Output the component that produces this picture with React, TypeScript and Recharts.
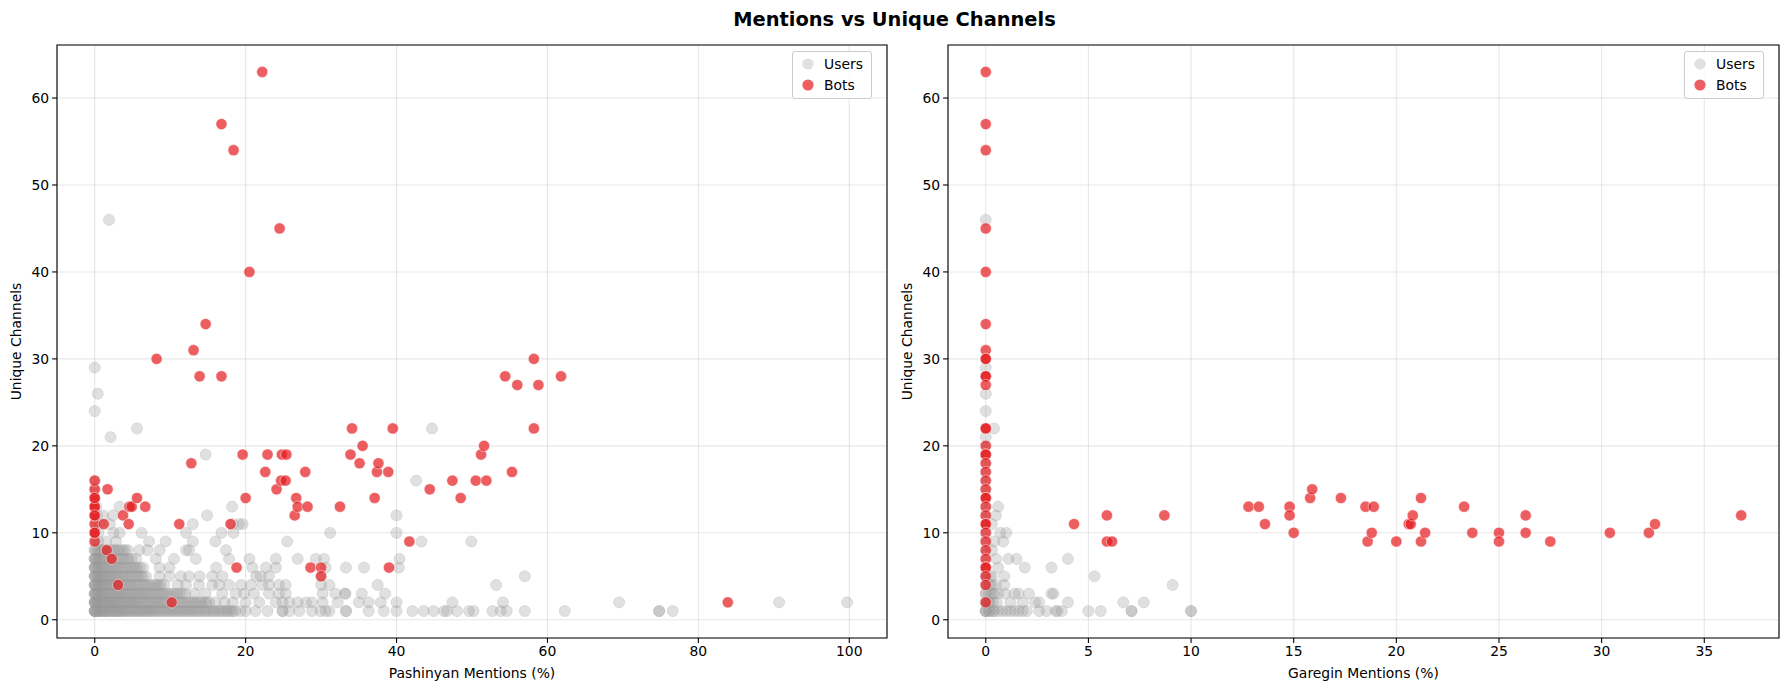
import { ScatterChart, Scatter, XAxis, YAxis, CartesianGrid, ReferenceArea, Legend } from "recharts";

// [mentions %, unique channels]
type Pt = [number, number];

const FONT = '"DejaVu Sans", Verdana, sans-serif';
const USER_COLOR = "#999999";
const USER_ALPHA = 0.3;
const BOT_COLOR = "#e41a1c";
const BOT_ALPHA = 0.7;

const yTicks = [0, 10, 20, 30, 40, 50, 60];
const pashinyanTicks = [0, 20, 40, 60, 80, 100];
const gareginTicks = [0, 5, 10, 15, 20, 25, 30, 35];

const pashinyanBots: Pt[] = [
  [0, 9], [0, 10], [0, 11], [0, 12], [0, 13], [0, 14], [0, 15], [0, 16], [0, 13], [0, 14], [0, 12], [0, 10],
  [1.2, 11], [1.7, 15], [1.6, 8], [2.25, 7], [3.1, 4], [3.75, 12], [4.5, 11], [4.6, 13], [4.9, 13], [5.6, 14],
  [6.7, 13], [8.2, 30], [10.2, 2], [11.2, 11], [12.8, 18], [13.1, 31], [13.9, 28], [14.7, 34], [16.8, 28],
  [16.8, 57], [18, 11], [18.4, 54], [18.8, 6], [19.6, 19], [20, 14], [20.5, 40], [22.2, 63], [22.6, 17],
  [22.9, 19], [24.1, 15], [24.5, 45], [24.7, 16], [24.8, 19], [25.3, 16], [25.4, 19], [26.5, 12], [26.7, 14],
  [26.9, 13], [27.9, 17], [28.2, 13], [28.6, 6], [30, 6], [30, 5], [32.5, 13], [33.9, 19], [34.1, 22],
  [35.1, 18], [35.5, 20], [37.1, 14], [37.4, 17], [37.6, 18], [38.9, 17], [39, 6], [39.5, 22], [41.7, 9],
  [44.4, 15], [47.4, 16], [48.5, 14], [50.5, 16], [51.2, 19], [51.6, 20], [51.9, 16], [54.4, 28], [55.3, 17],
  [56, 27], [58.2, 22], [58.2, 30], [58.8, 27], [61.8, 28], [83.9, 2],
];

const pashinyanUsersSparse: Pt[] = [
  [1.9, 46], [0, 29], [0.4, 26], [0, 24], [5.6, 22], [44.7, 22], [2.1, 21], [14.7, 19], [42.6, 16],
  [0, 16], [0, 15], [0, 14], [0, 13], [0, 12], [0, 11], [0, 10], [0, 9],
  [0.2, 13], [3.3, 13], [18.2, 13], [0.3, 12], [1.1, 12], [2.4, 12], [14.9, 12], [40, 12],
  [0.6, 11], [2, 11], [13, 11], [18.3, 11], [19.1, 11], [19.6, 11],
  [0.5, 10], [2.5, 10], [3.3, 10], [6.2, 10], [12.1, 10], [16.8, 10], [18.4, 10], [31.2, 10], [40, 10],
  [0.5, 9], [1.5, 9], [2.8, 9], [7.2, 9], [9.4, 9], [13, 9], [16, 9], [25.5, 9], [43.3, 9], [49.9, 9],
];

// unique channels -> list of mention % values
const pashinyanUserRows: [number, number[]][] = [
  [1, [0, 0, 0.3, 0.6, 1, 1.3, 1.6, 2, 2.4, 2.8, 3.2, 3.6, 4, 4.5, 5, 5.5, 6, 6.5, 7, 7.5, 8, 8.6, 9.2, 9.8,
    10.4, 11, 11.6, 12.2, 12.8, 13.4, 14, 14.7, 15.4, 16, 16.7, 17.4, 18, 18.6, 19.3, 20, 21.3, 22.9, 24.9,
    24.9, 25.8, 27.1, 28.8, 29.9, 30.6, 31.1, 33.3, 33.3, 36.3, 38.3, 40, 42.1, 43.6, 44.9, 46.3, 46.7, 48,
    49.6, 50.2, 52.7, 53.8, 54.6, 57, 62.3, 74.8, 74.8, 76.6]],
  [2, [0, 0, 0.3, 0.6, 1, 1.4, 1.8, 2.2, 2.6, 3, 3.5, 4, 4.5, 5, 5.5, 6, 6.6, 7.2, 7.8, 8.4, 9, 9.6, 10.3,
    11, 11.7, 12.4, 13.1, 13.8, 14.5, 15.2, 16, 17.2, 18.3, 20, 21.8, 24, 24.9, 25.8, 26.9, 28, 28.8, 30.2,
    32.2, 35, 36.3, 37.9, 40, 47.4, 54.1, 69.5, 90.7, 99.7]],
  [3, [0, 0, 0.3, 0.7, 1.1, 1.5, 2, 2.5, 3, 3.5, 4, 4.6, 5.2, 5.8, 6.4, 7, 7.6, 8.3, 9, 9.7, 10.4, 11.2, 12,
    13.2, 14.7, 16.9, 18.7, 19.8, 21.1, 23.1, 24.4, 25.3, 30.2, 31.9, 33.2, 33.2, 35.4, 38.5]],
  [4, [0, 0, 0.3, 0.7, 1.1, 1.6, 2.1, 2.6, 3.2, 3.8, 4.4, 5, 5.7, 6.4, 7.1, 7.8, 8.5, 9.2, 11, 12.1, 13.8,
    15.6, 16.5, 17.8, 19.4, 20.7, 22.2, 23.1, 24.4, 25.3, 30, 31.1, 37.5, 53.2]],
  [5, [0, 0, 0.4, 0.8, 1.2, 1.7, 2.2, 2.8, 3.4, 4, 4.7, 5.4, 6.1, 6.8, 8.6, 9.9, 11.4, 12.5, 13.9, 15.6,
    16.9, 21.4, 22, 23.1, 30, 57]],
  [6, [0, 0, 0.4, 0.9, 1.4, 2, 2.6, 3.2, 3.9, 4.6, 5.3, 6, 6.4, 8.6, 9.9, 16.1, 20.9, 22.7, 24, 30.6, 33.3,
    35.7, 40.3]],
  [7, [0, 0, 0.4, 0.9, 1.5, 2.1, 2.8, 3.5, 4.2, 4.9, 5.5, 8.1, 10.5, 13.4, 17.8, 20.5, 24, 26.9, 29.3, 30.4,
    40.4]],
  [8, [0, 0.5, 1, 1.6, 2.3, 3, 3.7, 4.4, 5.9, 7, 8.6, 12.1, 12.5, 17.4]],
];

// the crowded core near the origin holds many more users
const pashinyanUserCore: [number, number[]][] = [
  [1, [0, 0, 0.15, 0.45, 0.8, 1.15, 1.45, 1.8, 2.2, 2.6, 3, 3.4, 3.8, 4.25, 4.75, 5.25, 5.75, 6.25, 6.75, 7.25,
    7.75, 8.3, 8.9, 9.5, 10.1, 10.7, 11.3, 11.9, 12.5, 13.1, 13.7, 14.4, 15, 15.7, 16.4, 17, 17.7, 18.3]],
  [2, [0, 0, 0.15, 0.45, 0.8, 1.2, 1.6, 2, 2.4, 2.8, 3.25, 3.75, 4.25, 4.75, 5.25, 5.75, 6.3, 6.9, 7.5, 8.1,
    8.7, 9.3, 10, 10.6, 11.3, 12, 12.7, 13.4, 14.1, 14.8]],
  [3, [0, 0.15, 0.5, 0.9, 1.3, 1.75, 2.25, 2.75, 3.25, 3.75, 4.3, 4.9, 5.5, 6.1, 6.7, 7.3, 8, 8.6, 9.3, 10,
    10.8, 11.6]],
  [4, [0, 0.15, 0.5, 0.9, 1.35, 1.85, 2.35, 2.9, 3.5, 4.1, 4.7, 5.3, 6, 6.7, 7.4, 8.1, 8.8]],
  [5, [0, 0.2, 0.6, 1, 1.45, 1.95, 2.5, 3.1, 3.7, 4.3, 5, 5.7, 6.4]],
  [6, [0, 0.2, 0.65, 1.15, 1.7, 2.3, 2.9, 3.5, 4.2, 4.9, 5.6]],
  [7, [0, 0.2, 0.65, 1.2, 1.8, 2.4, 3.1, 3.8, 4.5]],
  [8, [0, 0.25, 0.75, 1.3, 1.9, 2.6, 3.3, 4]],
];

const gareginBots: Pt[] = [
  [0, 63], [0, 57], [0, 54], [0, 45], [0, 40], [0, 34], [0, 31], [0, 30], [0, 30], [0, 28], [0, 28], [0, 27],
  [0, 22], [0, 22], [0, 20], [0, 19], [0, 19], [0, 18], [0, 17], [0, 16], [0, 15], [0, 14], [0, 14], [0, 13],
  [0, 12], [0, 11], [0, 11], [0, 10], [0, 9], [0, 8], [0, 7], [0, 6], [0, 6], [0, 5], [0, 4], [0, 2],
  [4.3, 11], [5.9, 12], [5.9, 9], [6.15, 9], [8.7, 12], [12.8, 13], [13.3, 13], [13.6, 11], [14.8, 13],
  [14.8, 12], [15, 10], [15.8, 14], [15.9, 15], [17.3, 14], [18.5, 13], [18.6, 9], [18.8, 10], [18.9, 13],
  [20, 9], [20.6, 11], [20.7, 11], [20.8, 12], [21.2, 14], [21.2, 9], [21.4, 10], [23.3, 13], [23.7, 10],
  [25, 10], [25, 9], [26.3, 12], [26.3, 10], [27.5, 9], [30.4, 10], [32.3, 10], [32.6, 11], [36.8, 12],
];

const gareginUsers: Pt[] = [
  [0, 46], [0, 29], [0, 26], [0, 24], [0.4, 22], [0, 21], [0, 20], [0, 19], [0, 18], [0, 17], [0, 16],
  [0, 15], [0, 14], [0, 13], [0, 12], [0, 11], [0, 10], [0, 9], [0, 8], [0, 7], [0, 6], [0, 5], [0, 4],
  [0, 3], [0, 2], [0, 1], [0, 1], [0, 2], [0, 3], [0, 1], [0, 2], [0, 4], [0, 5],
  [0.6, 13], [0.5, 12], [0.3, 11], [0.7, 10], [1, 10], [0.4, 9], [0.85, 9], [0.3, 8], [0.5, 7], [1.1, 7],
  [1.5, 7], [4, 7], [0.6, 6], [1.9, 6], [3.2, 6], [0.3, 5], [0.9, 5], [5.3, 5], [0.3, 4], [0.9, 4],
  [9.1, 4], [0.3, 3], [0.6, 3], [0.94, 3], [1.4, 3], [1.6, 3], [2.1, 3], [3.2, 3], [3.3, 3], [0.2, 2],
  [0.54, 2], [1.2, 2], [1.8, 2], [2.4, 2], [2.6, 2], [4, 2], [6.7, 2], [7.7, 2], [0.2, 1], [0.4, 1],
  [0.6, 1], [0.8, 1], [1, 1], [1.2, 1], [1.4, 1], [1.6, 1], [1.8, 1], [2, 1], [2.6, 1], [2.96, 1],
  [3.4, 1], [3.5, 1], [3.7, 1], [5, 1], [5.6, 1], [7.1, 1], [7.1, 1], [10, 1], [10, 1],
  [0.15, 1], [0.35, 1], [0.15, 2], [0.35, 2], [0.15, 3], [0.4, 3], [0.2, 4], [0.5, 4], [0.2, 5],
];

const toData = (pts: Pt[]) => pts.map(([x, y]) => ({ x, y }));
const fromRows = (rows: [number, number[]][]) => rows.flatMap(([y, xs]) => xs.map((x) => [x, y] as Pt));
const pashinyanUsers: Pt[] = [
  ...pashinyanUsersSparse,
  ...fromRows(pashinyanUserRows),
  ...fromRows(pashinyanUserCore),
];

const dot = (color: string, alpha: number, edge: string) => (props: any) => (
  <circle
    cx={props.cx}
    cy={props.cy}
    r={5.6}
    fill={color}
    fillOpacity={alpha}
    stroke={edge}
    strokeWidth={0.7}
    strokeOpacity={alpha}
  />
);

function LegendBox() {
  const row = (color: string, alpha: number, label: string) => (
    <div style={{ display: "flex", alignItems: "center", height: 21.5 }}>
      <svg width={14} height={14} style={{ marginRight: 9 }}>
        <circle cx={7} cy={7} r={5.6} fill={color} fillOpacity={alpha} />
      </svg>
      <span>{label}</span>
    </div>
  );
  return (
    <div
      style={{
        background: "rgba(255,255,255,0.8)",
        border: "1px solid #cccccc",
        borderRadius: 3,
        padding: "1px 8px 2px 8px",
        fontFamily: FONT,
        fontSize: 13.9,
        color: "#000",
      }}
    >
      {row(USER_COLOR, USER_ALPHA, "Users")}
      {row(BOT_COLOR, BOT_ALPHA, "Bots")}
    </div>
  );
}

interface PanelProps {
  left: number;
  width: number;
  marginRight: number;
  xDomain: [number, number];
  xTicks: number[];
  xLabel: string;
  users: Pt[];
  bots: Pt[];
  legendLeft: number;
}

const Y_DOMAIN: [number, number] = [-2.1, 66.1];
const tickStyle = { fill: "#000", fontSize: 13.9, fontFamily: FONT };

function Panel({ left, width, marginRight, xDomain, xTicks, xLabel, users, bots, legendLeft }: PanelProps) {
  return (
    <div style={{ position: "absolute", left, top: 0 }}>
      <ScatterChart width={width} height={691} margin={{ top: 45, right: marginRight, bottom: 8, left: 0 }}>
        <CartesianGrid stroke="#b0b0b0" strokeOpacity={0.3} strokeWidth={1.1} />
        <XAxis
          type="number"
          dataKey="x"
          domain={xDomain}
          ticks={xTicks}
          allowDataOverflow
          axisLine={false}
          tickLine={{ stroke: "#000", strokeWidth: 1.1 }}
          tickSize={4.9}
          tickMargin={3}
          tick={tickStyle}
          height={45}
          label={{ value: xLabel, position: "insideBottom", offset: 5, fill: "#000", fontSize: 13.9, fontFamily: FONT }}
        />
        <YAxis
          type="number"
          dataKey="y"
          domain={Y_DOMAIN}
          ticks={yTicks}
          allowDataOverflow
          axisLine={false}
          tickLine={{ stroke: "#000", strokeWidth: 1.1 }}
          tickSize={4.9}
          tickMargin={3}
          tick={tickStyle}
          width={57}
          label={{
            value: "Unique Channels",
            angle: -90,
            position: "insideLeft",
            offset: 16,
            fill: "#000",
            fontSize: 13.9,
            fontFamily: FONT,
            style: { textAnchor: "middle" },
          }}
        />
        <Scatter name="Users" data={toData(users)} shape={dot(USER_COLOR, USER_ALPHA, USER_COLOR)} isAnimationActive={false} />
        <Scatter name="Bots" data={toData(bots)} shape={dot(BOT_COLOR, BOT_ALPHA, "#ffffff")} isAnimationActive={false} />
        <ReferenceArea
          x1={xDomain[0]}
          x2={xDomain[1]}
          y1={Y_DOMAIN[0]}
          y2={Y_DOMAIN[1]}
          fill="none"
          stroke="#000"
          strokeWidth={1.1}
          ifOverflow="visible"
        />
        <Legend
          layout="horizontal"
          verticalAlign="middle"
          align="center"
          content={() => <LegendBox />}
          wrapperStyle={{ top: 51, left: legendLeft, width: "auto", height: "auto" }}
        />
      </ScatterChart>
    </div>
  );
}

export default function App() {
  return (
    <div style={{ position: "relative", width: 1789, height: 691, background: "#fff", overflow: "hidden" }}>
      <style>{"body{margin:0}"}</style>
      <div
        style={{
          position: "absolute",
          top: 8,
          left: 0,
          width: 1789,
          textAlign: "center",
          fontFamily: FONT,
          fontWeight: "bold",
          fontSize: 19.4,
          lineHeight: "23px",
        }}
      >
        Mentions vs Unique Channels
      </div>
      <Panel
        left={0}
        width={900}
        marginRight={13}
        xDomain={[-5, 105]}
        xTicks={pashinyanTicks}
        xLabel="Pashinyan Mentions (%)"
        users={pashinyanUsers}
        bots={pashinyanBots}
        legendLeft={792}
      />
      <Panel
        left={891}
        width={898}
        marginRight={10}
        xDomain={[-1.84, 38.64]}
        xTicks={gareginTicks}
        xLabel="Garegin Mentions (%)"
        users={gareginUsers}
        bots={gareginBots}
        legendLeft={793}
      />
    </div>
  );
}
